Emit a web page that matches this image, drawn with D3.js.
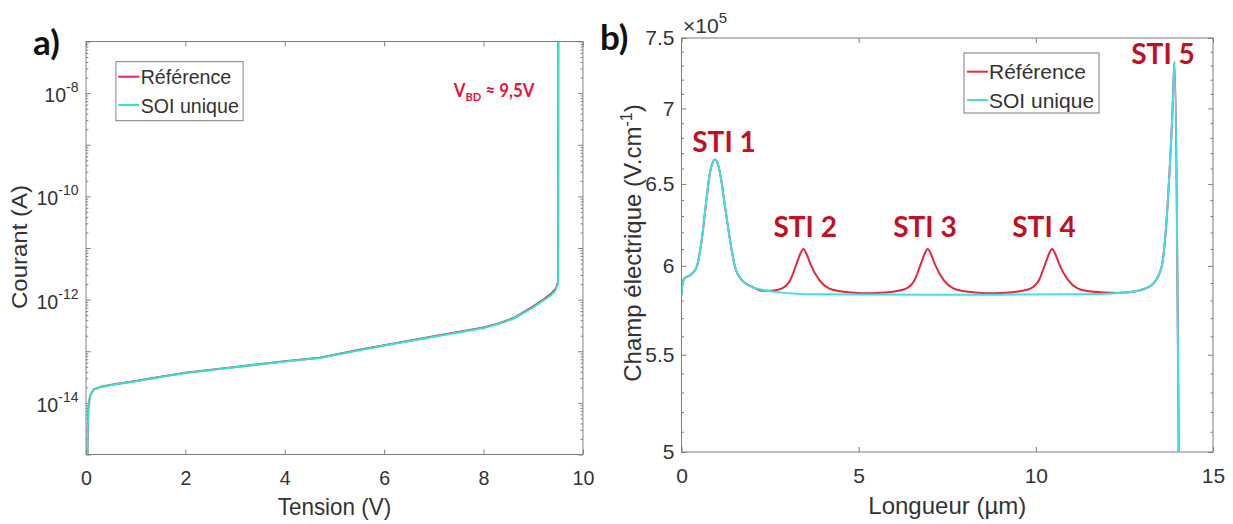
<!DOCTYPE html>
<html><head><meta charset="utf-8">
<script src="https://cdn.jsdelivr.net/npm/d3@7"></script>
<style>body{margin:0;background:#fff} svg{display:block}</style>
</head><body><svg id="c" width="1233" height="524"></svg>
<script>
// ---------- Panel a) : I(V) ----------
const seriesNames = ["Référence", "SOI unique"];
const tensionRef = [0.03, 0.035, 0.05, 0.08, 0.15, 0.3, 0.6, 1.0, 1.5, 2.0, 3.0, 4.0, 4.7, 5.5, 6.0, 7.0, 8.0, 8.3, 8.6, 9.0, 9.2, 9.35, 9.45, 9.48, 9.5, 9.505];
const courantRef = [5e-16, 3.1e-15, 8.2e-15, 1.37e-14, 1.82e-14, 2.06e-14, 2.31e-14, 2.66e-14, 3.2e-14, 3.85e-14, 4.95e-14, 6.4e-14, 7.5e-14, 1.07e-13, 1.31e-13, 1.95e-13, 2.88e-13, 3.45e-13, 4.4e-13, 7.4e-13, 1.0e-12, 1.28e-12, 1.62e-12, 2.0e-12, 2.15e-12, 3e-7];
const tensionSOI = [0.03, 0.035, 0.05, 0.08, 0.15, 0.3, 0.6, 1.0, 1.5, 2.0, 3.0, 4.0, 4.7, 5.5, 6.0, 7.0, 8.0, 8.3, 8.6, 9.0, 9.2, 9.35, 9.45, 9.48, 9.5, 9.505];
const courantSOI = [5e-16, 3e-15, 8e-15, 1.35e-14, 1.8e-14, 2.04e-14, 2.29e-14, 2.63e-14, 3.16e-14, 3.8e-14, 4.9e-14, 6.3e-14, 7.4e-14, 1.05e-13, 1.29e-13, 1.91e-13, 2.82e-13, 3.39e-13, 4.27e-13, 7.08e-13, 9.55e-13, 1.2e-12, 1.51e-12, 1.86e-12, 2.0e-12, 3e-7];
const xTicksA = [0, 2, 4, 6, 8, 10];
const yTicksA = [1e-14, 1e-12, 1e-10, 1e-8];
const yTickExpA = ["-14", "-12", "-10", "-8"];
const vbdText = ["V", "BD", " \u2248 9,5V"];
const vbdAt = [7.4, 8.5e-9];

// ---------- Panel b) : champ électrique (×1e5 V/cm) ----------
const longueurRef = [0, 0.04, 0.1, 0.2, 0.3, 0.43, 0.57, 0.68, 0.8, 0.88, 0.945, 1.01, 1.09, 1.23, 1.37, 1.51, 1.7, 1.98, 2.3, 2.55, 2.84, 3.07, 3.25, 3.35, 3.44, 3.53, 3.63, 3.89, 4.16, 4.49, 4.94, 5.2, 5.5, 5.75, 6.05, 6.35, 6.58, 6.76, 6.86, 6.95, 7.04, 7.14, 7.4, 7.67, 8.0, 8.45, 8.7, 9.0, 9.26, 9.56, 9.86, 10.09, 10.27, 10.37, 10.46, 10.55, 10.65, 10.91, 11.18, 11.51, 11.96, 12.3, 12.5, 12.97, 13.32, 13.55, 13.66, 13.78, 13.87, 13.91, 14.035];
const champRef = [5.83, 5.91, 5.93, 5.94, 5.955, 5.994, 6.153, 6.357, 6.568, 6.64, 6.659, 6.64, 6.568, 6.357, 6.153, 5.994, 5.917, 5.88, 5.855, 5.856, 5.869, 5.917, 6.015, 6.07, 6.1, 6.07, 6.015, 5.917, 5.869, 5.852, 5.843, 5.841, 5.842, 5.845, 5.853, 5.869, 5.917, 6.015, 6.07, 6.1, 6.07, 6.015, 5.917, 5.869, 5.852, 5.843, 5.841, 5.842, 5.845, 5.853, 5.869, 5.917, 6.015, 6.07, 6.1, 6.07, 6.015, 5.917, 5.869, 5.852, 5.845, 5.843, 5.845, 5.86, 5.898, 5.994, 6.19, 6.61, 7.056, 7.326, 4.95];
const longueurSOI = [0, 0.04, 0.1, 0.2, 0.3, 0.43, 0.57, 0.68, 0.8, 0.88, 0.945, 1.01, 1.09, 1.23, 1.37, 1.51, 1.7, 1.98, 2.3, 2.64, 3.5, 5.0, 7.0, 9.0, 11.0, 12.0, 12.5, 12.97, 13.32, 13.55, 13.66, 13.78, 13.87, 13.91, 14.035];
const champSOI = [5.83, 5.91, 5.93, 5.94, 5.955, 5.994, 6.153, 6.357, 6.568, 6.64, 6.659, 6.64, 6.568, 6.357, 6.153, 5.994, 5.917, 5.878, 5.86, 5.849, 5.836, 5.834, 5.833, 5.833, 5.835, 5.838, 5.845, 5.86, 5.898, 5.994, 6.19, 6.61, 7.056, 7.326, 4.95];
const xTicksB = [0, 5, 10, 15];
const yTicksB = [5, 5.5, 6, 6.5, 7, 7.5];
const yTickLabelsB = ["5", "5.5", "6", "6.5", "7", "7.5"];
const stiLabels = ["STI 1", "STI 2", "STI 3", "STI 4", "STI 5"];
const stiX = [1.2, 3.49, 6.87, 10.23, 13.59];
const stiY = [6.71, 6.17, 6.17, 6.17, 7.31];

// ---------- style ----------
const FONT = "'Liberation Sans', Arial, Helvetica, sans-serif";
const BOLD = "Lato, 'Open Sans', sans-serif";
const AX = "#7d7d7d", TX = "#333";
const colA = {ref: "#e8245e", soi: "#2fe3cf"};
const colB = {ref: "#e6283c", soi: "#3fe0e8"};
const STI = "#c20f22";

const svg = d3.select("#c");
svg.append("rect").attr("width", 1233).attr("height", 524).attr("fill", "#fff");
const defs = svg.append("defs");

function styleAxis(sel) {
  sel.select(".domain").remove();
  sel.selectAll(".tick line").attr("stroke", AX).attr("stroke-width", 1);
  sel.selectAll(".tick text").attr("fill", TX).attr("font-size", 21).attr("font-family", FONT);
}

// ================= Panel a =================
const gA = svg.append("g").attr("transform", "translate(86,0) scale(0.935,1)");
const wA = 531.5, topA = 41.5, botA = 454.5;
const xA = d3.scaleLinear().domain([0, 10]).range([0, wA]);
const yA = d3.scaleLog().domain([1e-15, 1e-7]).range([botA, topA]);
const decadesA = d3.range(-15, -6).map(e => Math.pow(10, e));
const minorA = [];
d3.range(-15, -7).forEach(e => { for (let k = 2; k <= 9; k++) minorA.push(k * Math.pow(10, e)); });

defs.append("clipPath").attr("id", "clipA").append("rect")
  .attr("x", 0).attr("y", topA).attr("width", wA).attr("height", botA - topA);

gA.append("g").attr("transform", `translate(0,${botA})`)
  .call(d3.axisBottom(xA).tickValues(xTicksA).tickSize(-5).tickPadding(16).tickFormat(d3.format("d"))).call(styleAxis);
gA.append("g").attr("transform", `translate(0,${topA})`)
  .call(d3.axisTop(xA).tickValues(xTicksA).tickSize(-5).tickFormat(() => "")).call(styleAxis);
gA.append("g").call(d3.axisLeft(yA).tickValues(decadesA).tickSize(-5).tickFormat(() => "")).call(styleAxis);
gA.append("g").call(d3.axisLeft(yA).tickValues(minorA).tickSize(-2.5).tickFormat(() => "")).call(styleAxis);
gA.append("g").attr("transform", `translate(${wA},0)`)
  .call(d3.axisRight(yA).tickValues(decadesA).tickSize(-5).tickFormat(() => "")).call(styleAxis);
gA.append("g").attr("transform", `translate(${wA},0)`)
  .call(d3.axisRight(yA).tickValues(minorA).tickSize(-2.5).tickFormat(() => "")).call(styleAxis);

yTicksA.forEach((v, i) => {
  const t = gA.append("text").attr("x", -8).attr("y", yA(v) + 9).attr("text-anchor", "end")
    .attr("font-family", FONT).attr("font-size", 21).attr("fill", TX);
  t.append("tspan").text("10");
  t.append("tspan").attr("dy", -10).attr("font-size", 15).text(yTickExpA[i]);
});

gA.append("rect").attr("x", 0).attr("y", topA).attr("width", wA).attr("height", botA - topA)
  .attr("fill", "none").attr("stroke", AX).attr("stroke-width", 1);

const lineA = d3.line().x(d => xA(d[0])).y(d => yA(d[1]));
gA.append("path").datum(d3.zip(tensionRef, courantRef)).attr("d", lineA)
  .attr("fill", "none").attr("stroke", colA.ref).attr("stroke-width", 2).attr("clip-path", "url(#clipA)");
gA.append("path").datum(d3.zip(tensionSOI, courantSOI)).attr("d", lineA)
  .attr("fill", "none").attr("stroke", colA.soi).attr("stroke-width", 2).attr("clip-path", "url(#clipA)");

gA.append("text").attr("x", wA / 2).attr("y", 515).attr("text-anchor", "middle")
  .attr("font-family", FONT).attr("font-size", 24).attr("fill", TX).text("Tension (V)");
gA.append("text").attr("transform", `translate(-63,247) rotate(-90)`).attr("text-anchor", "middle")
  .attr("font-family", FONT).attr("font-size", 24).attr("fill", TX).text("Courant (A)");

// legend a
const legA = gA.append("g");
legA.append("rect").attr("x", 32).attr("y", 61.7).attr("width", 136).attr("height", 59)
  .attr("fill", "#fff").attr("stroke", AX).attr("stroke-width", 1);
[colA.ref, colA.soi].forEach((c, i) => {
  const y = 76.7 + i * 28.3;
  legA.append("line").attr("x1", 34.5).attr("x2", 57).attr("y1", y).attr("y2", y).attr("stroke", c).attr("stroke-width", 2);
  legA.append("text").attr("x", 58.5).attr("y", y + 7.6).attr("font-family", FONT).attr("font-size", 21)
    .attr("fill", TX).text(seriesNames[i]);
});

// V_BD annotation
const vb = gA.append("text").attr("x", xA(vbdAt[0])).attr("y", yA(vbdAt[1]))
  .attr("font-family", BOLD).attr("font-weight", "bold").attr("font-size", 18).attr("fill", "#e8123c");
vb.append("tspan").text(vbdText[0]);
vb.append("tspan").attr("dy", 4).attr("font-size", 12).text(vbdText[1]);
vb.append("tspan").attr("dy", -4).text(vbdText[2]);

svg.append("text").attr("x", 33).attr("y", 55).attr("font-family", BOLD).attr("font-weight", "bold")
  .attr("font-size", 35).attr("fill", "#111").text("a)");

// ================= Panel b =================
const gB = svg.append("g");
const leftB = 681.5, rightB = 1213, topB = 38, botB = 452;
const xB = d3.scaleLinear().domain([0, 15]).range([leftB, rightB]);
const yB = d3.scaleLog().domain([5, 7.5]).range([botB, topB]);
const minorB = d3.range(51, 75).filter(v => v % 5 !== 0).map(v => v / 10);

defs.append("clipPath").attr("id", "clipB").append("rect")
  .attr("x", leftB).attr("y", topB).attr("width", rightB - leftB).attr("height", botB - topB);

gB.append("g").attr("transform", `translate(0,${botB})`)
  .call(d3.axisBottom(xB).tickValues(xTicksB).tickSize(-5).tickPadding(16).tickFormat(d3.format("d"))).call(styleAxis);
gB.append("g").attr("transform", `translate(0,${topB})`)
  .call(d3.axisTop(xB).tickValues(xTicksB).tickSize(-5).tickFormat(() => "")).call(styleAxis);
gB.append("g").attr("transform", `translate(${leftB},0)`)
  .call(d3.axisLeft(yB).tickValues(yTicksB).tickSize(-5).tickPadding(7).tickFormat((d, i) => yTickLabelsB[i])).call(styleAxis);
gB.append("g").attr("transform", `translate(${leftB},0)`)
  .call(d3.axisLeft(yB).tickValues(minorB).tickSize(-2.5).tickFormat(() => "")).call(styleAxis);
gB.append("g").attr("transform", `translate(${rightB},0)`)
  .call(d3.axisRight(yB).tickValues(yTicksB).tickSize(-5).tickFormat(() => "")).call(styleAxis);
gB.append("g").attr("transform", `translate(${rightB},0)`)
  .call(d3.axisRight(yB).tickValues(minorB).tickSize(-2.5).tickFormat(() => "")).call(styleAxis);

gB.append("rect").attr("x", leftB).attr("y", topB).attr("width", rightB - leftB).attr("height", botB - topB)
  .attr("fill", "none").attr("stroke", AX).attr("stroke-width", 1);

const lineB = d3.line().x(d => xB(d[0])).y(d => yB(d[1])).curve(d3.curveMonotoneX);
gB.append("path").datum(d3.zip(longueurRef, champRef)).attr("d", lineB)
  .attr("fill", "none").attr("stroke", colB.ref).attr("stroke-width", 2).attr("clip-path", "url(#clipB)");
gB.append("path").datum(d3.zip(longueurSOI, champSOI)).attr("d", lineB)
  .attr("fill", "none").attr("stroke", colB.soi).attr("stroke-width", 2).attr("clip-path", "url(#clipB)");

// exponent
const ex = gB.append("text").attr("x", 683).attr("y", 33).attr("font-family", FONT).attr("font-size", 21).attr("fill", TX);
ex.append("tspan").text("\u00d710");
ex.append("tspan").attr("dy", -10).attr("font-size", 15).text("5");

gB.append("text").attr("x", (leftB + rightB) / 2).attr("y", 513.5).attr("text-anchor", "middle")
  .attr("font-family", FONT).attr("font-size", 24).attr("fill", TX).text("Longueur (\u00b5m)");
const yl = gB.append("text").attr("transform", `translate(641,243) rotate(-90)`).attr("text-anchor", "middle")
  .attr("font-family", FONT).attr("font-size", 24).attr("fill", TX);
yl.append("tspan").text("Champ \u00e9lectrique (V.cm");
yl.append("tspan").attr("dy", -9).attr("font-size", 16).text("-1");
yl.append("tspan").attr("dy", 9).text(")");

// legend b
const legB = gB.append("g");
legB.append("rect").attr("x", 964).attr("y", 53).attr("width", 135).attr("height", 60)
  .attr("fill", "#fff").attr("stroke", AX).attr("stroke-width", 1);
[colB.ref, colB.soi].forEach((c, i) => {
  const y = 71.7 + i * 28.3;
  legB.append("line").attr("x1", 967).attr("x2", 988).attr("y1", y).attr("y2", y).attr("stroke", c).attr("stroke-width", 2);
  legB.append("text").attr("x", 989).attr("y", y + 7.6).attr("font-family", FONT).attr("font-size", 21)
    .attr("fill", TX).text(seriesNames[i]);
});

// STI labels
stiLabels.forEach((s, i) => {
  gB.append("text").attr("x", xB(stiX[i])).attr("y", yB(stiY[i])).attr("text-anchor", "middle")
    .attr("font-family", BOLD).attr("font-weight", "bold").attr("font-size", 28).attr("fill", STI).text(s);
});

svg.append("text").attr("x", 600).attr("y", 50).attr("font-family", BOLD).attr("font-weight", "bold")
  .attr("font-size", 35).attr("fill", "#111").text("b)");
</script></body></html>
